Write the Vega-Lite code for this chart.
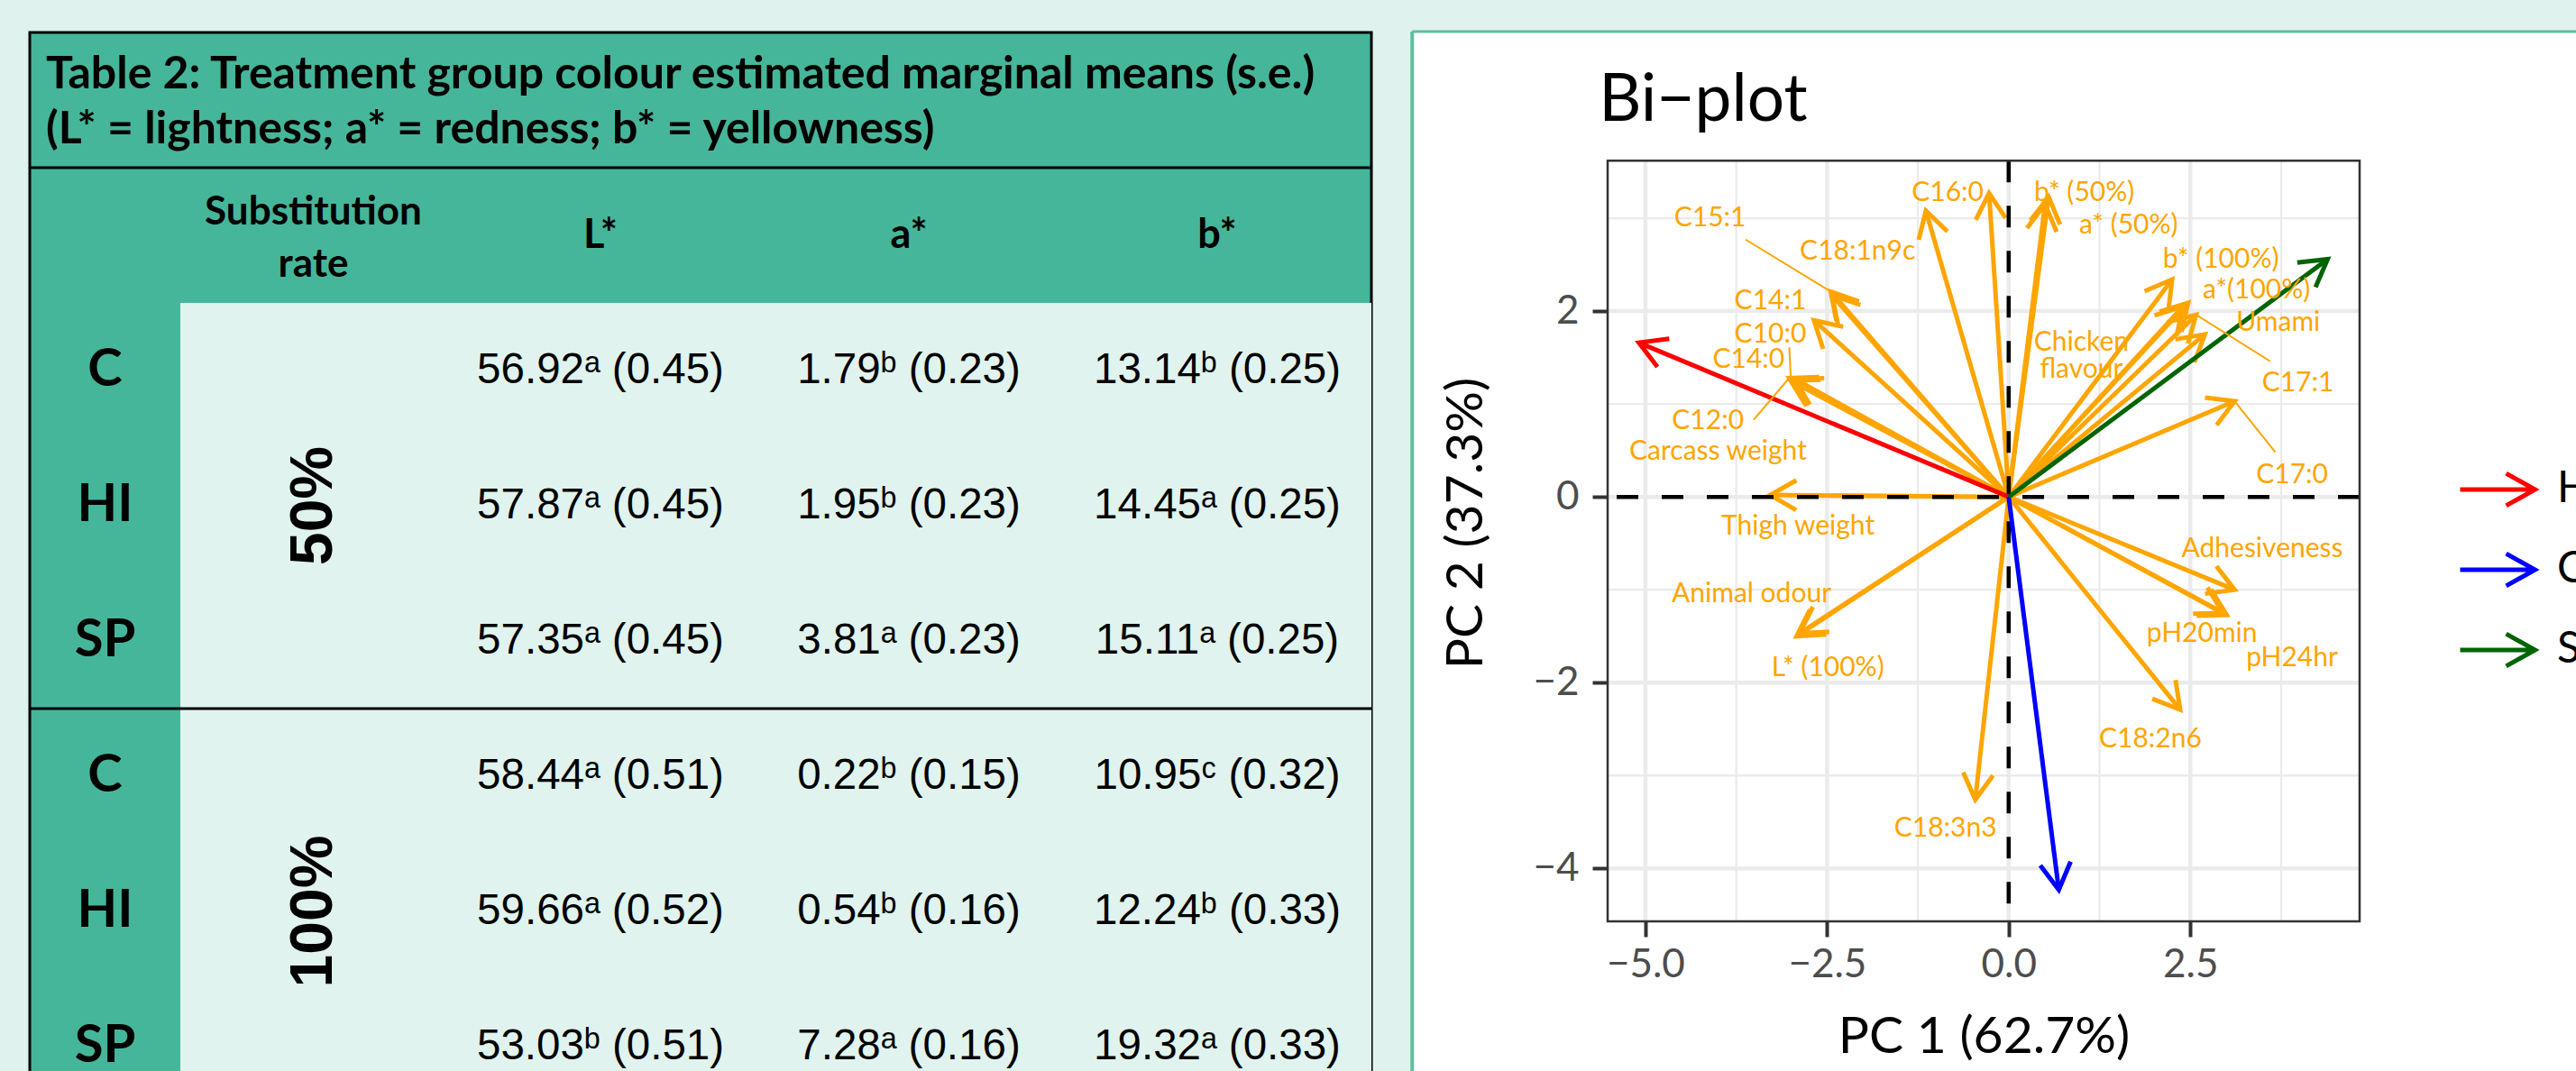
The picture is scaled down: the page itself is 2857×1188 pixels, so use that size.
{
  "$schema": "https://vega.github.io/schema/vega-lite/v6.json",
  "background": "#E0F2ED",
  "padding": {"left": 30, "top": 32, "right": 0, "bottom": 0},
  "config": {"font": "Lato", "view": {"stroke": null}},
  "spacing": 40,
  "datasets": {
    "means": [
      {"row": "C 50%", "group": "C", "rate": "50%", "L": "56.92ᵃ (0.45)", "a": "1.79ᵇ (0.23)", "b": "13.14ᵇ (0.25)"},
      {"row": "HI 50%", "group": "HI", "rate": "50%", "L": "57.87ᵃ (0.45)", "a": "1.95ᵇ (0.23)", "b": "14.45ᵃ (0.25)"},
      {"row": "SP 50%", "group": "SP", "rate": "50%", "L": "57.35ᵃ (0.45)", "a": "3.81ᵃ (0.23)", "b": "15.11ᵃ (0.25)"},
      {"row": "C 100%", "group": "C", "rate": "100%", "L": "58.44ᵃ (0.51)", "a": "0.22ᵇ (0.15)", "b": "10.95ᶜ (0.32)"},
      {"row": "HI 100%", "group": "HI", "rate": "100%", "L": "59.66ᵃ (0.52)", "a": "0.54ᵇ (0.16)", "b": "12.24ᵇ (0.33)"},
      {"row": "SP 100%", "group": "SP", "rate": "100%", "L": "53.03ᵇ (0.51)", "a": "7.28ᵃ (0.16)", "b": "19.32ᵃ (0.33)"}
    ],
    "vars": [
      {"name": "C16:0", "x": -0.27, "y": 3.27, "lx": -0.84, "ly": 3.27},
      {"name": "b* (50%)", "x": 0.55, "y": 3.23, "lx": 1.04, "ly": 3.27},
      {"name": "a* (50%)", "x": 0.5, "y": 3.15, "lx": 1.65, "ly": 2.92},
      {"name": "C18:1n9c", "x": -1.14, "y": 3.08, "lx": -2.08, "ly": 2.64},
      {"name": "C15:1", "x": -2.45, "y": 2.21, "lx": -4.11, "ly": 3.0},
      {"name": "C14:1", "x": -2.43, "y": 2.17, "lx": -3.28, "ly": 2.11},
      {"name": "C10:0", "x": -2.68, "y": 1.9, "lx": -3.28, "ly": 1.75},
      {"name": "C14:0", "x": -3.02, "y": 1.28, "lx": -3.58, "ly": 1.48},
      {"name": "C12:0", "x": -3.0, "y": 1.25, "lx": -4.14, "ly": 0.82},
      {"name": "Carcass weight", "x": -2.95, "y": 1.27, "lx": -4.0, "ly": 0.49},
      {"name": "Thigh weight", "x": -3.28, "y": 0.02, "lx": -2.9, "ly": -0.32},
      {"name": "b* (100%)", "x": 2.25, "y": 2.34, "lx": 2.92, "ly": 2.55},
      {"name": "a*(100%)", "x": 2.47, "y": 2.09, "lx": 3.41, "ly": 2.22},
      {"name": "Umami", "x": 2.7, "y": 1.75, "lx": 3.71, "ly": 1.87},
      {"name": "Chicken\nflavour", "x": 2.4, "y": 2.05, "lx": 1.0, "ly": 1.66},
      {"name": "C17:1", "x": 2.58, "y": 1.96, "lx": 3.98, "ly": 1.22},
      {"name": "C17:0", "x": 3.11, "y": 1.03, "lx": 3.9, "ly": 0.23},
      {"name": "Adhesiveness", "x": 3.11, "y": -1.0, "lx": 3.49, "ly": -0.56},
      {"name": "pH20min", "x": 3.0, "y": -1.27, "lx": 2.66, "ly": -1.47},
      {"name": "pH24hr", "x": 2.95, "y": -1.25, "lx": 3.9, "ly": -1.74},
      {"name": "C18:2n6", "x": 2.36, "y": -2.29, "lx": 1.95, "ly": -2.61},
      {"name": "C18:3n3", "x": -0.46, "y": -3.26, "lx": -0.87, "ly": -3.57},
      {"name": "Animal odour", "x": -2.92, "y": -1.5, "lx": -3.54, "ly": -1.05},
      {"name": "L* (100%)", "x": -2.88, "y": -1.47, "lx": -2.49, "ly": -1.84}
    ],
    "treat": [
      {"treat": "HI", "x": -5.09, "y": 1.66},
      {"treat": "C", "x": 0.69, "y": -4.23},
      {"treat": "SP", "x": 4.39, "y": 2.56}
    ],
    "leaders": [
      {"name": "C15:1", "x": -3.62, "y": 2.77, "x2": -2.45, "y2": 2.21},
      {"name": "C14:0", "x": -3.02, "y": 1.61, "x2": -3.0, "y2": 1.3},
      {"name": "C12:0", "x": -3.51, "y": 0.83, "x2": -3.02, "y2": 1.28},
      {"name": "C17:1", "x": 3.6, "y": 1.46, "x2": 2.58, "y2": 1.96},
      {"name": "C17:0", "x": 3.67, "y": 0.48, "x2": 3.11, "y2": 1.03}
    ],
    "gridXMajor": [{"v": -5}, {"v": -2.5}, {"v": 0}, {"v": 2.5}],
    "gridXMinor": [{"v": -3.75}, {"v": -1.25}, {"v": 1.25}, {"v": 3.75}],
    "gridYMajor": [{"v": -4}, {"v": -2}, {"v": 0}, {"v": 2}],
    "gridYMinor": [{"v": -3}, {"v": -1}, {"v": 1}, {"v": 3}]
  },
  "hconcat": [
    {
      "width": 1488,
      "height": 1200,
      "view": {"fill": "#46B69A", "stroke": "black", "strokeWidth": 3},
      "resolve": {"scale": {"x": "independent"}},
      "layer": [
        {
          "data": {"name": "means"},
          "transform": [{"fold": ["rate"], "as": ["col", "val"]}],
          "mark": {"type": "rect", "fill": "#E0F3EE"},
          "encoding": {
            "x": {"field": "col", "type": "nominal", "scale": {"type": "band", "domain": ["rate"], "range": [167, 1488], "paddingInner": 0, "paddingOuter": 0}, "axis": null},
            "y": {"field": "row", "type": "nominal", "scale": {"type": "band", "domain": ["title", "header", "C 50%", "HI 50%", "SP 50%", "C 100%", "HI 100%", "SP 100%"], "paddingInner": 0, "paddingOuter": 0}, "axis": null}
          }
        },
        {
          "data": {"values": [{"row": "header"}, {"row": "C 100%"}]},
          "mark": {"type": "rule", "color": "black", "strokeWidth": 3},
          "encoding": {
            "y": {"field": "row", "type": "nominal", "bandPosition": 0, "scale": {"type": "band", "domain": ["title", "header", "C 50%", "HI 50%", "SP 50%", "C 100%", "HI 100%", "SP 100%"], "paddingInner": 0, "paddingOuter": 0}, "axis": null}
          }
        },
        {
          "data": {"values": [{"row": "title", "col": "title", "t": "Table 2: Treatment group colour estimated marginal means (s.e.)\n(L* = lightness; a* = redness; b* = yellowness)"}]},
          "mark": {"type": "text", "align": "left", "baseline": "middle", "lineBreak": "\n", "font": "Lato", "fontWeight": "bold", "fontSize": 50, "lineHeight": 61, "dy": -28, "color": "black"},
          "encoding": {
            "x": {"field": "col", "type": "nominal", "bandPosition": 0, "scale": {"type": "band", "domain": ["title"], "range": [18, 1488], "paddingInner": 0, "paddingOuter": 0}, "axis": null},
            "y": {"field": "row", "type": "nominal", "scale": {"type": "band", "domain": ["title", "header", "C 50%", "HI 50%", "SP 50%", "C 100%", "HI 100%", "SP 100%"], "paddingInner": 0, "paddingOuter": 0}, "axis": null},
            "text": {"field": "t"}
          }
        },
        {
          "data": {"values": [{"row": "header", "col": "rate", "h": "Substitution\nrate"}]},
          "mark": {"type": "text", "align": "center", "baseline": "middle", "lineBreak": "\n", "font": "Lato", "fontWeight": "bold", "fontSize": 44, "lineHeight": 58, "dy": -25, "color": "black"},
          "encoding": {
            "x": {"field": "col", "type": "nominal", "scale": {"type": "band", "domain": ["rate"], "range": [167, 462], "paddingInner": 0, "paddingOuter": 0}, "axis": null},
            "y": {"field": "row", "type": "nominal", "scale": {"type": "band", "domain": ["title", "header", "C 50%", "HI 50%", "SP 50%", "C 100%", "HI 100%", "SP 100%"], "paddingInner": 0, "paddingOuter": 0}, "axis": null},
            "text": {"field": "h"}
          }
        },
        {
          "data": {"values": [{"row": "header", "col": "L", "h": "L*"}, {"row": "header", "col": "a", "h": "a*"}, {"row": "header", "col": "b", "h": "b*"}]},
          "mark": {"type": "text", "align": "center", "baseline": "middle", "font": "Lato", "fontWeight": "bold", "fontSize": 45, "color": "black"},
          "encoding": {
            "x": {"field": "col", "type": "nominal", "scale": {"type": "band", "domain": ["L", "a", "b"], "range": [462, 1488], "paddingInner": 0, "paddingOuter": 0}, "axis": null},
            "y": {"field": "row", "type": "nominal", "scale": {"type": "band", "domain": ["title", "header", "C 50%", "HI 50%", "SP 50%", "C 100%", "HI 100%", "SP 100%"], "paddingInner": 0, "paddingOuter": 0}, "axis": null},
            "text": {"field": "h"}
          }
        },
        {
          "data": {"name": "means"},
          "transform": [{"fold": ["group"], "as": ["col", "val"]}],
          "mark": {"type": "text", "align": "center", "baseline": "middle", "font": "Lato", "fontWeight": "bold", "fontSize": 58, "color": "black"},
          "encoding": {
            "x": {"field": "col", "type": "nominal", "scale": {"type": "band", "domain": ["group"], "range": [0, 167], "paddingInner": 0, "paddingOuter": 0}, "axis": null},
            "y": {"field": "row", "type": "nominal", "scale": {"type": "band", "domain": ["title", "header", "C 50%", "HI 50%", "SP 50%", "C 100%", "HI 100%", "SP 100%"], "paddingInner": 0, "paddingOuter": 0}, "axis": null},
            "text": {"field": "val"}
          }
        },
        {
          "data": {"name": "means"},
          "transform": [{"filter": "datum.group === 'HI'"}, {"fold": ["rate"], "as": ["col", "val"]}],
          "mark": {"type": "text", "align": "center", "baseline": "middle", "angle": 270, "font": "Liberation Sans", "fontWeight": "bold", "fontSize": 66, "color": "black"},
          "encoding": {
            "x": {"field": "col", "type": "nominal", "scale": {"type": "band", "domain": ["rate"], "range": [167, 462], "paddingInner": 0, "paddingOuter": 0}, "axis": null},
            "y": {"field": "row", "type": "nominal", "scale": {"type": "band", "domain": ["title", "header", "C 50%", "HI 50%", "SP 50%", "C 100%", "HI 100%", "SP 100%"], "paddingInner": 0, "paddingOuter": 0}, "axis": null},
            "text": {"field": "val"}
          }
        },
        {
          "data": {"name": "means"},
          "transform": [{"fold": ["L", "a", "b"], "as": ["col", "val"]}],
          "mark": {"type": "text", "align": "center", "baseline": "middle", "font": "Liberation Sans", "fontSize": 47.5, "color": "black"},
          "encoding": {
            "x": {"field": "col", "type": "nominal", "scale": {"type": "band", "domain": ["L", "a", "b"], "range": [462, 1488], "paddingInner": 0, "paddingOuter": 0}, "axis": null},
            "y": {"field": "row", "type": "nominal", "scale": {"type": "band", "domain": ["title", "header", "C 50%", "HI 50%", "SP 50%", "C 100%", "HI 100%", "SP 100%"], "paddingInner": 0, "paddingOuter": 0}, "axis": null},
            "text": {"field": "val"}
          }
        }
      ]
    },
    {
      "width": 834,
      "height": 986,
      "view": {"fill": "white", "stroke": null},
      "layer": [
        {
          "data": {"values": [{}]},
          "mark": {"type": "rect", "fill": "white"},
          "encoding": {
            "x": {"datum": -8.21, "type": "quantitative"},
            "x2": {"datum": 9},
            "y": {"datum": -7, "type": "quantitative"},
            "y2": {"datum": -4.57}
          }
        },
        {
          "data": {"values": [{}]},
          "mark": {"type": "rect", "fill": "white"},
          "encoding": {
            "x": {"datum": -8.21, "type": "quantitative"},
            "x2": {"datum": -5.52},
            "y": {"datum": -4.57, "type": "quantitative"},
            "y2": {"datum": 5.01}
          }
        },
        {
          "data": {"values": [{}]},
          "mark": {"type": "rect", "fill": "white"},
          "encoding": {
            "x": {"datum": 4.83, "type": "quantitative"},
            "x2": {"datum": 9},
            "y": {"datum": -4.57, "type": "quantitative"},
            "y2": {"datum": 5.01}
          }
        },
        {
          "data": {"name": "gridXMinor"},
          "mark": {"type": "rule", "color": "#EBEBEB", "strokeWidth": 2.3},
          "encoding": {
            "x": {"field": "v", "type": "quantitative"},
            "y": {"datum": -4.57, "type": "quantitative"},
            "y2": {"datum": 3.62}
          }
        },
        {
          "data": {"name": "gridYMinor"},
          "mark": {"type": "rule", "color": "#EBEBEB", "strokeWidth": 2.3},
          "encoding": {"y": {"field": "v", "type": "quantitative"}}
        },
        {
          "data": {"name": "gridXMajor"},
          "mark": {"type": "rule", "color": "#EBEBEB", "strokeWidth": 4.5},
          "encoding": {
            "x": {"field": "v", "type": "quantitative"},
            "y": {"datum": -4.57, "type": "quantitative"},
            "y2": {"datum": 3.62}
          }
        },
        {
          "data": {"name": "gridYMajor"},
          "mark": {"type": "rule", "color": "#EBEBEB", "strokeWidth": 4.5},
          "encoding": {"y": {"field": "v", "type": "quantitative"}}
        },
        {
          "data": {"name": "vars"},
          "mark": {"type": "rule", "color": "#FFA500", "strokeWidth": 5},
          "encoding": {
            "x": {"field": "x", "type": "quantitative"},
            "y": {"field": "y", "type": "quantitative"},
            "x2": {"datum": 0},
            "y2": {"datum": 0}
          }
        },
        {
          "data": {"name": "vars"},
          "transform": [{"calculate": "atan2(datum.x * 80.6, datum.y * 103) * 180 / PI", "as": "ang"}],
          "mark": {"type": "point", "shape": "M-0.5,0.866L0,0L0.5,0.866", "size": 4400, "filled": false, "opacity": 1, "strokeWidth": 5, "color": "#FFA500"},
          "encoding": {
            "x": {"field": "x", "type": "quantitative"},
            "y": {"field": "y", "type": "quantitative"},
            "angle": {"field": "ang", "type": "quantitative", "scale": {"domain": [0, 360], "range": [0, 360]}}
          }
        },
        {
          "data": {"values": [{}]},
          "mark": {"type": "rule", "color": "black", "strokeWidth": 4.5, "strokeDash": [24, 26]},
          "encoding": {
            "x": {"datum": 0, "type": "quantitative"},
            "y": {"datum": 3.62, "type": "quantitative"},
            "y2": {"datum": -4.57}
          }
        },
        {
          "data": {"values": [{}]},
          "mark": {"type": "rule", "color": "black", "strokeWidth": 4.5, "strokeDash": [24, 26]},
          "encoding": {"y": {"datum": 0, "type": "quantitative"}}
        },
        {
          "data": {"name": "treat"},
          "mark": {"type": "rule", "strokeWidth": 5},
          "encoding": {
            "x": {"field": "x", "type": "quantitative"},
            "y": {"field": "y", "type": "quantitative"},
            "x2": {"datum": 0},
            "y2": {"datum": 0},
            "color": {"field": "treat", "type": "nominal", "scale": {"domain": ["HI", "C", "SP"], "range": ["#FF0000", "#0000FF", "#006400"]},
              "legend": {"orient": "none", "legendX": 2693, "legendY": 463, "title": null, "symbolType": "M-1,0L1,0M0.23,-0.43L1,0L0.23,0.43", "symbolSize": 6889, "symbolStrokeWidth": 5, "symbolFillColor": "transparent", "labelFont": "Lato", "labelFontSize": 48, "labelColor": "black", "labelOffset": 22, "rowPadding": 17, "padding": 0}}
          }
        },
        {
          "data": {"name": "treat"},
          "transform": [{"calculate": "atan2(datum.x * 80.6, datum.y * 103) * 180 / PI", "as": "ang"}],
          "mark": {"type": "point", "shape": "M-0.5,0.866L0,0L0.5,0.866", "size": 4600, "filled": false, "opacity": 1, "strokeWidth": 5},
          "encoding": {
            "x": {"field": "x", "type": "quantitative"},
            "y": {"field": "y", "type": "quantitative"},
            "angle": {"field": "ang", "type": "quantitative", "scale": {"domain": [0, 360], "range": [0, 360]}},
            "color": {"field": "treat", "type": "nominal"}
          }
        },
        {
          "data": {"name": "leaders"},
          "mark": {"type": "rule", "color": "#FFA500", "strokeWidth": 2},
          "encoding": {
            "x": {"field": "x", "type": "quantitative"},
            "y": {"field": "y", "type": "quantitative"},
            "x2": {"field": "x2"},
            "y2": {"field": "y2"}
          }
        },
        {
          "data": {"name": "vars"},
          "mark": {"type": "text", "color": "#FFA500", "font": "Lato", "fontSize": 30, "lineBreak": "\n", "lineHeight": 30, "align": "center", "baseline": "middle"},
          "encoding": {
            "x": {"field": "lx", "type": "quantitative", "scale": {"domain": [-5.52, 4.83], "nice": false, "zero": false},
              "axis": {"values": [-5, -2.5, 0, 2.5], "format": ".1f", "grid": false, "domain": false, "ticks": true, "tickSize": 17, "tickWidth": 4, "tickColor": "#333333", "labelFont": "Lato", "labelFontSize": 44, "labelColor": "#4D4D4D", "labelPadding": 9, "labelFlush": false, "labelOverlap": false, "title": "PC 1 (62.7%)", "titleFont": "Lato", "titleFontSize": 57, "titleFontWeight": "normal", "titleColor": "black", "titlePadding": 30, "zindex": 1}},
            "y": {"field": "ly", "type": "quantitative", "scale": {"domain": [-4.57, 5.0], "nice": false, "zero": false},
              "axis": {"values": [-4, -2, 0, 2], "format": "d", "grid": false, "domain": false, "ticks": true, "tickSize": 17, "tickWidth": 4, "tickColor": "#333333", "labelFont": "Lato", "labelFontSize": 44, "labelColor": "#4D4D4D", "labelPadding": 15, "labelFlush": false, "labelOverlap": false, "title": "PC 2 (37.3%)", "titleFont": "Lato", "titleFontSize": 57, "titleFontWeight": "normal", "titleColor": "black", "titlePadding": 44, "titleY": 544, "zindex": 1}},
            "text": {"field": "name"}
          }
        },
        {
          "data": {"values": [{}]},
          "mark": {"type": "text", "align": "left", "baseline": "alphabetic", "font": "Lato", "fontSize": 73, "color": "black"},
          "encoding": {
            "x": {"datum": -5.64, "type": "quantitative"},
            "y": {"datum": 4.05, "type": "quantitative"},
            "text": {"value": "Bi−plot"}
          }
        },
        {
          "data": {"values": [{}]},
          "mark": {"type": "rect", "fill": "transparent", "stroke": "#333333", "strokeWidth": 2.5},
          "encoding": {
            "x": {"datum": -5.52, "type": "quantitative"},
            "x2": {"datum": 4.83},
            "y": {"datum": -4.57, "type": "quantitative"},
            "y2": {"datum": 3.62}
          }
        },
        {
          "data": {"values": [{}]},
          "mark": {"type": "rule", "color": "#5CBFA0", "strokeWidth": 4},
          "encoding": {
            "x": {"datum": -8.21, "type": "quantitative"},
            "y": {"datum": -7, "type": "quantitative"},
            "y2": {"datum": 5.01}
          }
        },
        {
          "data": {"values": [{}]},
          "mark": {"type": "rule", "color": "#5CBFA0", "strokeWidth": 3},
          "encoding": {
            "x": {"datum": -8.21, "type": "quantitative"},
            "x2": {"datum": 9},
            "y": {"datum": 5.01, "type": "quantitative"}
          }
        }
      ]
    }
  ]
}
